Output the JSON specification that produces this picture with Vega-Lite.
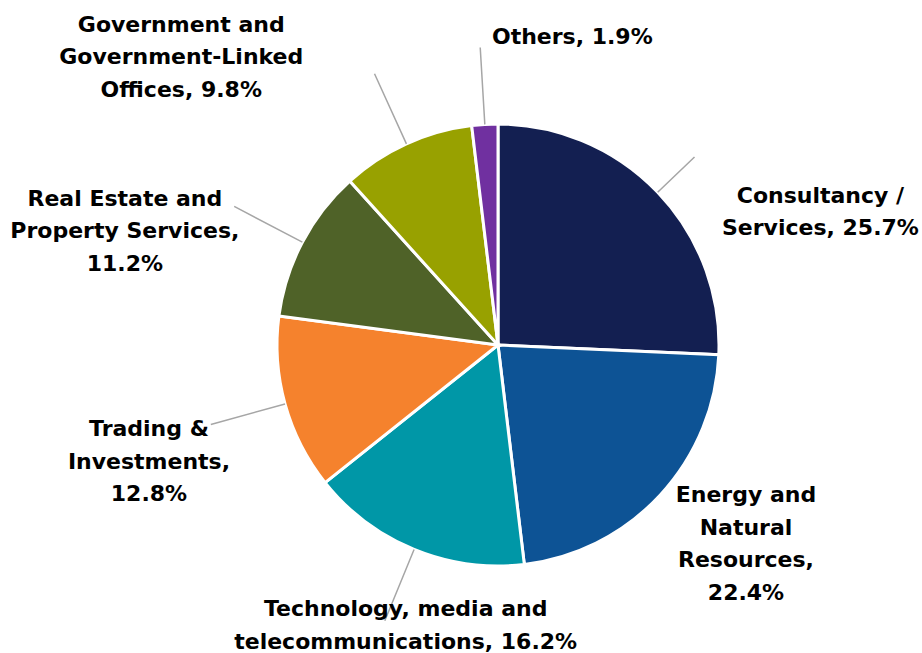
{
  "$schema": "https://vega.github.io/schema/vega-lite/v6.json",
  "autosize": {"type": "none"},
  "padding": {"left": 74, "top": 37, "right": 0, "bottom": 0},
  "width": 848,
  "height": 616,
  "background": "white",
  "view": {"stroke": null},
  "config": {"text": {"font": "DejaVu Sans", "fontWeight": "bold", "fontSize": 22, "lineHeight": 32.5, "align": "center", "baseline": "middle", "color": "#000000"}},
  "data": {"values": [
    {"category": "Consultancy / Services", "value": 25.7, "label": ["Consultancy /", "Services, 25.7%"]},
    {"category": "Energy and Natural Resources", "value": 22.4, "label": ["Energy and", "Natural", "Resources,", "22.4%"]},
    {"category": "Technology, media and telecommunications", "value": 16.2, "label": ["Technology, media and", "telecommunications, 16.2%"]},
    {"category": "Trading & Investments", "value": 12.8, "label": ["Trading &", "Investments,", "12.8%"]},
    {"category": "Real Estate and Property Services", "value": 11.2, "label": ["Real Estate and", "Property Services,", "11.2%"]},
    {"category": "Government and Government-Linked Offices", "value": 9.8, "label": ["Government and", "Government-Linked", "Offices, 9.8%"]},
    {"category": "Others", "value": 1.9, "label": ["Others, 1.9%"]}
  ]},
  "transform": [{"window": [{"op": "row_number", "as": "rank"}]}],
  "encoding": {
    "theta": {"field": "value", "type": "quantitative", "stack": true},
    "order": {"field": "rank", "type": "quantitative"}
  },
  "layer": [
    {
      "mark": {"type": "arc", "outerRadius": 221, "stroke": "#ffffff", "strokeWidth": 3},
      "encoding": {
        "color": {"field": "category", "type": "nominal", "legend": null,
          "scale": {"domain": ["Consultancy / Services", "Energy and Natural Resources", "Technology, media and telecommunications", "Trading & Investments", "Real Estate and Property Services", "Government and Government-Linked Offices", "Others"],
                    "range": ["#131F51", "#0D5395", "#0097A7", "#F5822D", "#4F6228", "#98A100", "#7030A0"]}}
      }
    },
    {
      "mark": {"type": "arc", "outerRadius": 298, "innerRadius": 221, "padAngle": 3, "fillOpacity": 0, "stroke": "#A6A6A6", "strokeWidth": 1.5},
      "encoding": {
        "strokeOpacity": {"condition": {"test": "datum.category === 'Energy and Natural Resources' || datum.category === 'Consultancy / Services'", "value": 0}, "value": 1}
      }
    },
    {
      "mark": {"type": "arc", "outerRadius": 272, "innerRadius": 221, "padAngle": 3, "fillOpacity": 0, "stroke": "#A6A6A6", "strokeWidth": 1.5},
      "encoding": {
        "strokeOpacity": {"condition": {"test": "datum.category === 'Consultancy / Services'", "value": 1}, "value": 0}
      }
    },
    {
      "mark": {"type": "text", "radius": 330, "dx": 84, "dy": 79},
      "encoding": {"text": {"condition": {"test": "datum.category === 'Consultancy / Services'", "field": "label"}, "value": ""}}
    },
    {
      "mark": {"type": "text", "radius": 330, "dx": 6, "dy": -74},
      "encoding": {"text": {"condition": {"test": "datum.category === 'Energy and Natural Resources'", "field": "label"}, "value": ""}}
    },
    {
      "mark": {"type": "text", "radius": 330, "dx": 33, "dy": -41},
      "encoding": {"text": {"condition": {"test": "datum.category === 'Technology, media and telecommunications'", "field": "label"}, "value": ""}}
    },
    {
      "mark": {"type": "text", "radius": 330, "dx": -31, "dy": -4},
      "encoding": {"text": {"condition": {"test": "datum.category === 'Trading & Investments'", "field": "label"}, "value": ""}}
    },
    {
      "mark": {"type": "text", "radius": 330, "dx": -81, "dy": 7},
      "encoding": {"text": {"condition": {"test": "datum.category === 'Real Estate and Property Services'", "field": "label"}, "value": ""}}
    },
    {
      "mark": {"type": "text", "radius": 330, "dx": -180, "dy": -20},
      "encoding": {"text": {"condition": {"test": "datum.category === 'Government and Government-Linked Offices'", "field": "label"}, "value": ""}}
    },
    {
      "mark": {"type": "text", "radius": 330, "dx": 94, "dy": 21},
      "encoding": {"text": {"condition": {"test": "datum.category === 'Others'", "field": "label"}, "value": ""}}
    }
  ]
}
